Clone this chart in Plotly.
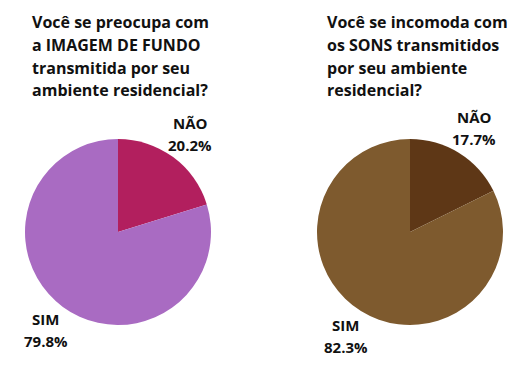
import math
import plotly.graph_objects as go

labels = ["NÃO", "SIM"]
imagem_values = [20.2, 79.8]
sons_values = [17.7, 82.3]
imagem_colors = ["#B21F5E", "#A96BC2"]
sons_colors = ["#5E3716", "#7E5A2E"]
title_lines = [
    ["Você se preocupa com", "a IMAGEM DE FUNDO", "transmitida por seu", "ambiente residencial?"],
    ["Você se incomoda com", "os SONS transmitidos", "por seu ambiente", "residencial?"],
]

FONT = "Open Sans"
OFF = 8          # page body margin
W, H = 512, 352  # figure size (fits inside the 528x368 window with body margin)


def px(x):
    return (x - OFF) / W


def py(y):
    return 1 - (y - OFF) / H


R = 93
LABEL_R = 122
pies = [
    (imagem_values, imagem_colors, (118, 232), 30),
    (sons_values, sons_colors, (410, 232), 325),
]

fig = go.Figure()
for (vals, cols, (cx, cy), tx), lines in zip(pies, title_lines):
    fig.add_trace(go.Pie(
        labels=labels, values=vals, sort=False, direction="clockwise", rotation=0,
        marker=dict(colors=cols, line=dict(width=0)),
        textinfo="none",
        domain=dict(x=[px(cx - R), px(cx + R)], y=[py(cy + R), py(cy - R)]),
        showlegend=False, hoverinfo="label+percent",
    ))
    total = sum(vals)
    cum = 0.0
    for lab, v in zip(labels, vals):
        mid = (cum + v / 2) / total * 2 * math.pi
        cum += v
        lx = cx + LABEL_R * math.sin(mid)
        ly = cy - LABEL_R * math.cos(mid)
        for j, txt in enumerate([lab, f"{v / total * 100:.1f}%"]):
            fig.add_annotation(
                text=f"<b>{txt}</b>",
                xref="paper", yref="paper", x=px(lx), y=py(ly - 11 + j * 22),
                xanchor="center", yanchor="middle", align="center", showarrow=False,
                font=dict(family=FONT, size=15, color="#111111"),
            )
    for i, line in enumerate(lines):
        fig.add_annotation(
            text="<b>" + line + "</b>", xref="paper", yref="paper",
            x=px(tx), y=py(22.5 + i * 22.6), xanchor="left", yanchor="middle",
            align="left", showarrow=False,
            font=dict(family=FONT, size=16, color="#111111"),
        )

fig.update_layout(
    width=W, height=H, margin=dict(l=0, r=0, t=0, b=0),
    paper_bgcolor="white", plot_bgcolor="white",
)
fig.write_html("out.html")
